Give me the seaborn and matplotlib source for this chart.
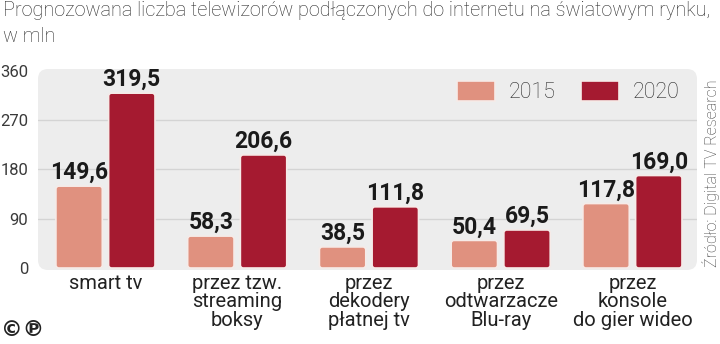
import matplotlib
matplotlib.use("Agg")
import matplotlib.pyplot as plt
from matplotlib.patches import FancyBboxPatch, Patch
import seaborn as sns
import pandas as pd

categories = ["smart tv", "przez tzw.\nstreaming\nboksy", "przez\ndekodery\npłatnej tv",
              "przez\nodtwarzacze\nBlu-ray", "przez\nkonsole\ndo gier wideo"]
years = ["2015", "2020"]
values_2015 = [149.6, 58.3, 38.5, 50.4, 117.8]
values_2020 = [319.5, 206.6, 111.8, 69.5, 169.0]
yticks = [0, 90, 180, 270, 360]
title = "Prognozowana liczba telewizorów podłączonych do internetu na światowym rynku,\nw mln"
source = "Źródło: Digital TV Research"

colors = ["#E0917F", "#A51A30"]

df = pd.DataFrame({
    "cat": categories * 2,
    "year": [years[0]] * len(categories) + [years[1]] * len(categories),
    "val": values_2015 + values_2020,
})

sns.set_theme(style="white")
plt.rcParams["font.family"] = ["Roboto", "DejaVu Sans"]

fig = plt.figure(figsize=(7.2, 3.44), dpi=100)
W, H = 720, 344
ax = fig.add_axes([38 / W, 1 - 270 / H, (697 - 38) / W, (270 - 69) / H])
ax.set_facecolor("none")

sns.barplot(data=df, x="cat", y="val", hue="year", palette=colors, saturation=1,
            width=0.8, gap=0.12, edgecolor="#f6ebe8", linewidth=1.2, ax=ax,
            legend=False, zorder=3)

ax.set_xlim(-0.512, 4.49)
ax.set_ylim(-3.65, 363.65)

# background panel with rounded corners
bg = FancyBboxPatch((0, 0), 1, 1, boxstyle="round,pad=0,rounding_size=0.0152",
                    mutation_aspect=(697 - 38) / (270 - 69), transform=ax.transAxes,
                    facecolor="#EDEDED", edgecolor="none", zorder=0, clip_on=False)
ax.add_patch(bg)

# value labels
for cont in ax.containers:
    labels = [f"{b.get_height():.1f}".replace(".", ",") for b in cont]
    ax.bar_label(cont, labels=labels, padding=1.5, fontsize=16.5, fontweight="bold",
                 color="#1a1a1a")

# rounded bars
for p in list(ax.patches):
    if p is bg:
        continue
    x, y, w, h = p.get_x(), p.get_y(), p.get_width(), p.get_height()
    fb = FancyBboxPatch((x, y), w, h, boxstyle="round,pad=0,rounding_size=0.022",
                        mutation_aspect=(1 / 0.5472) / (1 / 131.7),
                        facecolor=p.get_facecolor(), edgecolor="#f6ebe8",
                        linewidth=1.2, zorder=3)
    p.set_visible(False)
    ax.add_patch(fb)

# grid
ax.set_yticks(yticks)
for t in yticks[1:-1]:
    ax.axhline(t, color="#D4D4D4", lw=1.0, zorder=1)
for s in ax.spines.values():
    s.set_visible(False)
ax.tick_params(axis="both", length=0)
ax.tick_params(axis="y", pad=7, labelsize=12, labelcolor="#3a3a3a")
ax.tick_params(axis="x", pad=3)
ax.set_xticks(range(len(categories)))
ax.set_xticklabels(categories, fontsize=14.5, color="#222222", linespacing=0.95, va="top")
ax.set_xlabel("")
ax.set_ylabel("")

# legend
handles = [Patch(facecolor=c, edgecolor="#f6ebe8", linewidth=1.2) for c in colors]
leg = ax.legend(handles, years, ncol=2, loc="upper right", bbox_to_anchor=(0.974, 0.94),
                frameon=False, fontsize=15.5, borderaxespad=0, borderpad=0,
                handlelength=1.75, handleheight=1.05, handletextpad=0.65, columnspacing=1.2)
for t in leg.get_texts():
    t.set_fontweight("light")
    t.set_color("#2a2a2a")

fig.text(3 / W, 1 - 1 / H, title, ha="left", va="top", fontsize=14.3, fontweight="light",
         color="#2a2a2a", linespacing=1.45)
fig.text(711 / W, 1 - 173 / H, source, rotation=90, ha="center", va="center",
         fontsize=11.5, fontweight="light", color="#3a3a3a")
fig.text(1 / W, 1 - 330 / H, "©℗", ha="left", va="center", fontsize=15.5,
         fontweight="bold", color="#222222", family=["DejaVu Sans"])

fig.savefig("out.png", dpi=100)
